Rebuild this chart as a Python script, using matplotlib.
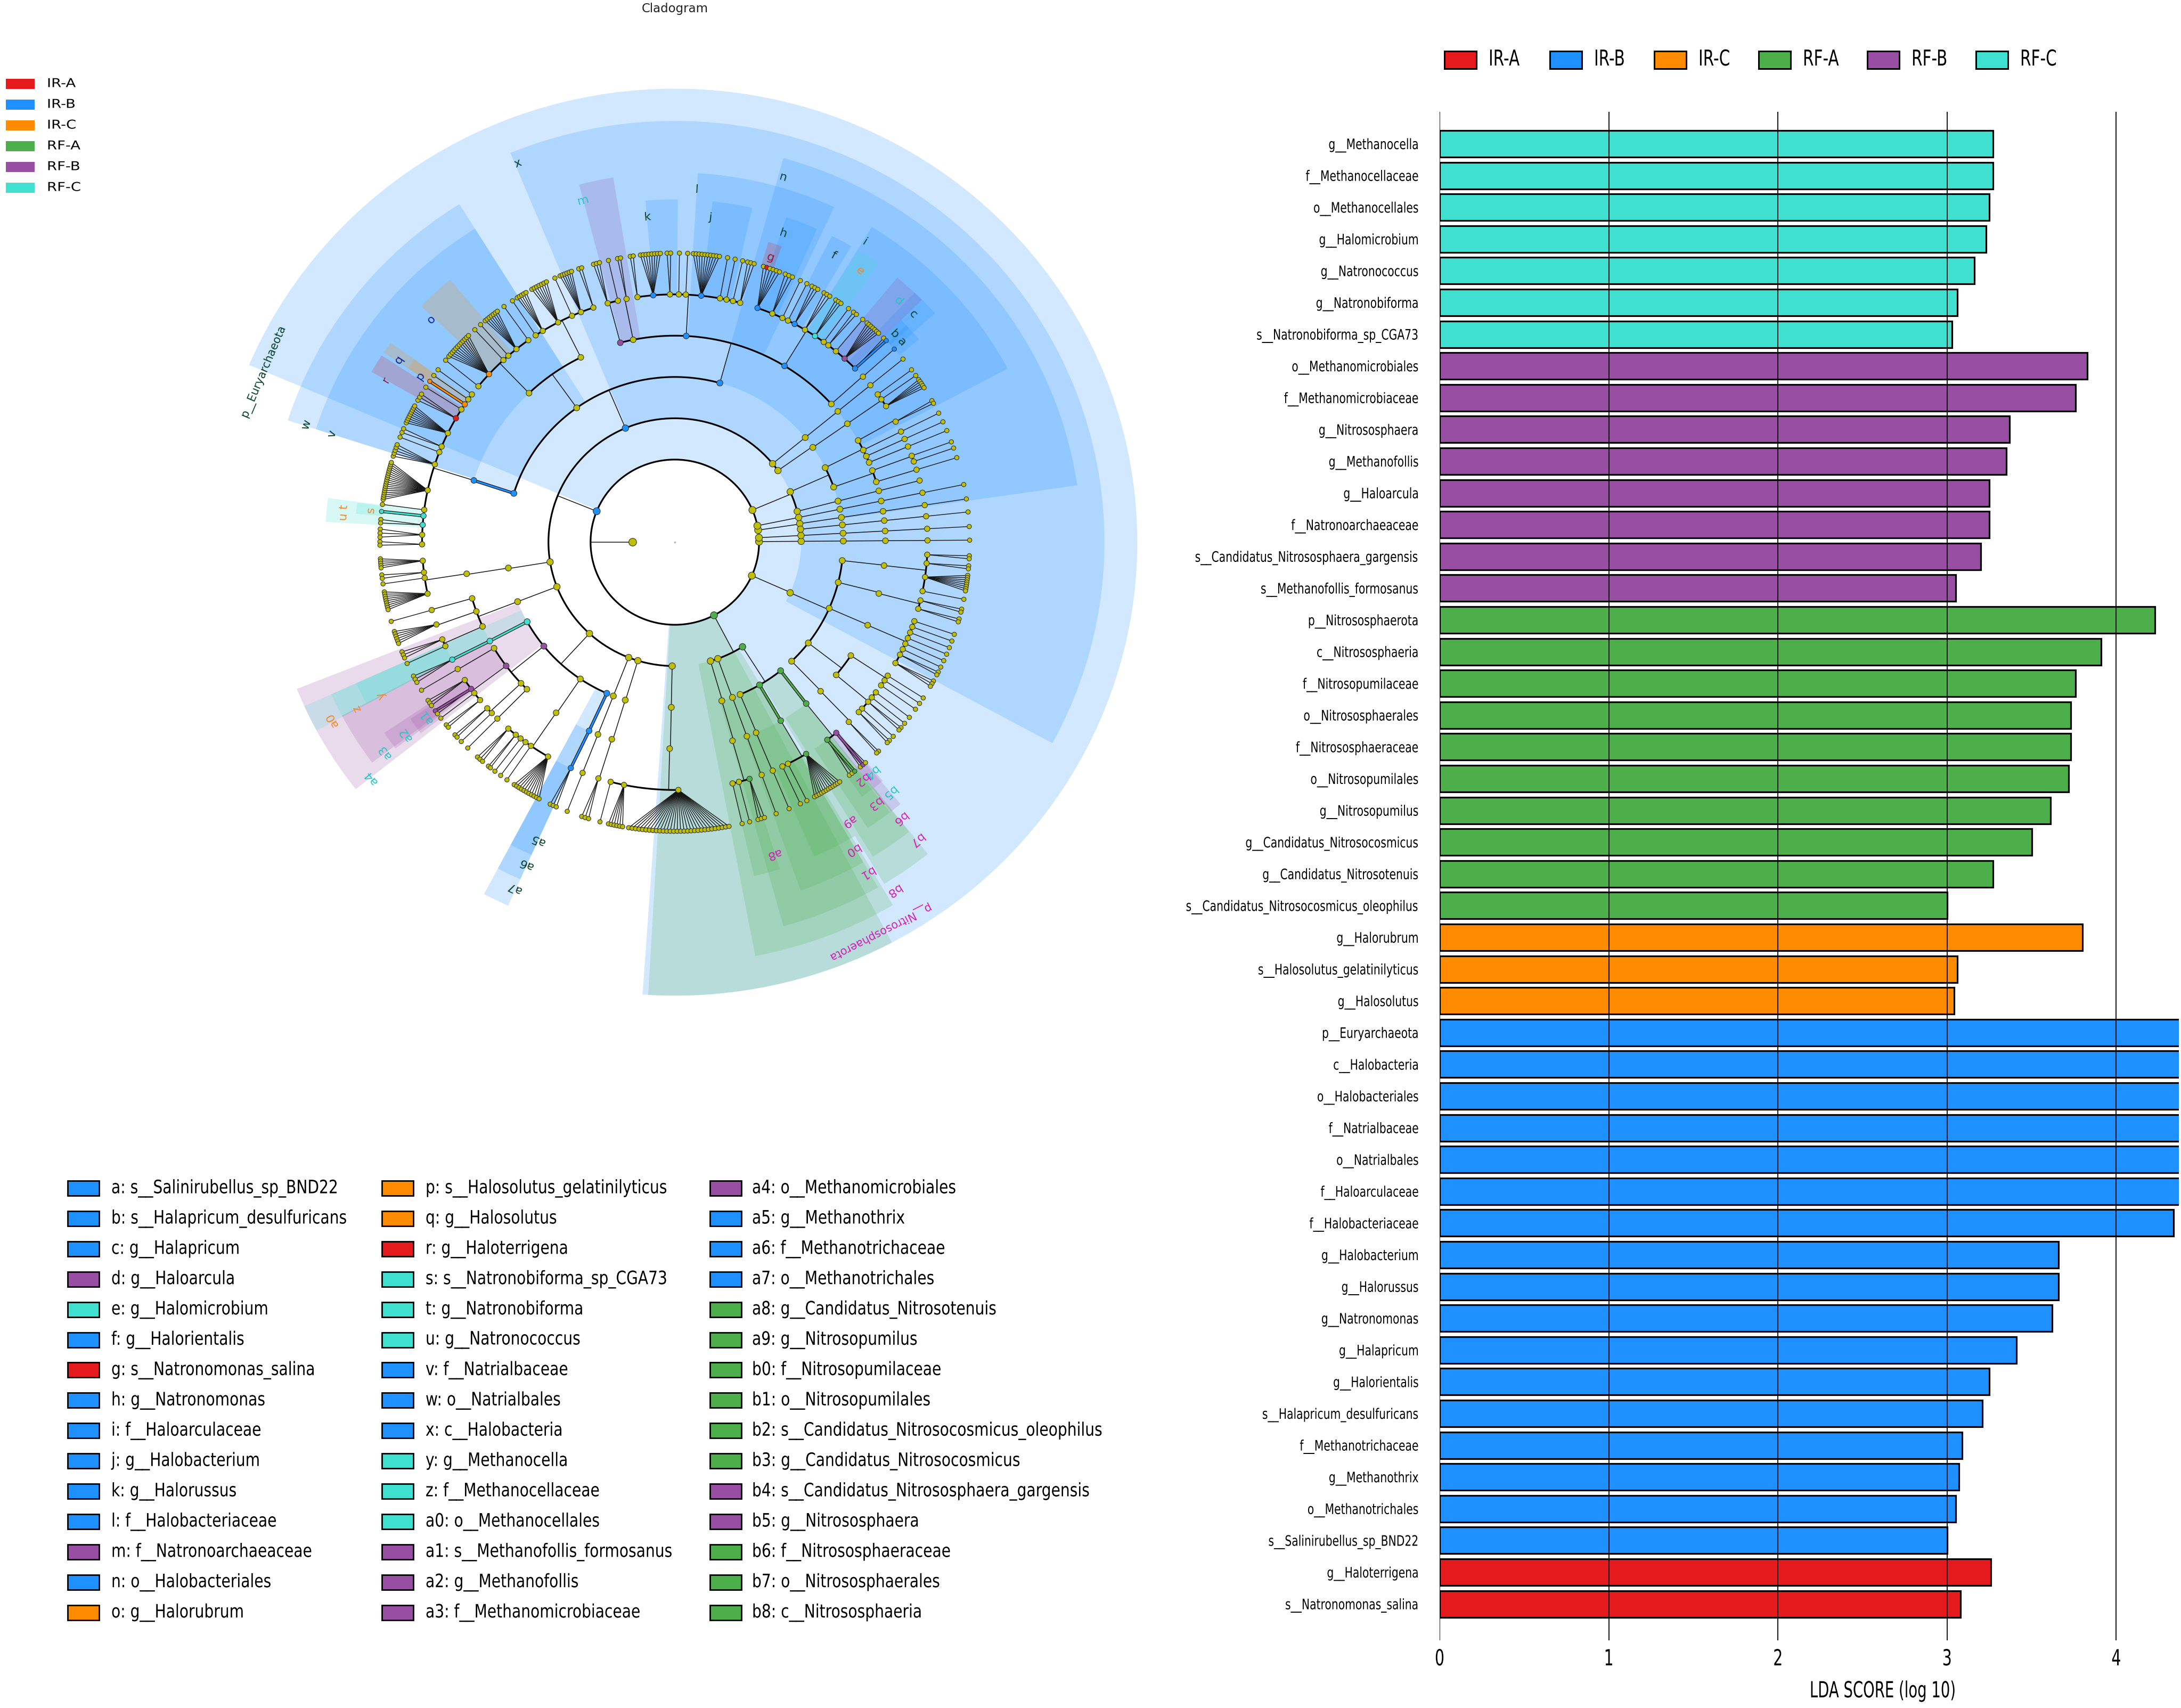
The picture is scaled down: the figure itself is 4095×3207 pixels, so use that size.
import numpy as np
import matplotlib
matplotlib.use('Agg')
import matplotlib.pyplot as plt
from matplotlib.patches import Rectangle
from matplotlib.patheffects import AbstractPathEffect
from matplotlib.transforms import Affine2D

W, H = 4095, 3207
DPI = 100

# groups
groups = ['IR-A', 'IR-B', 'IR-C', 'RF-A', 'RF-B', 'RF-C']
group_colors = ['#e41a1c', '#1e90ff', '#ff8c00', '#4daf4a', '#984ea3', '#40e0d0']
label_colors = ['#8b1a3a', '#06402b', '#10249a', '#d11fb5', '#27c4c4', '#f58a2a']

# LDA bars, top to bottom
bar_names = ['g__Methanocella', 'f__Methanocellaceae', 'o__Methanocellales', 'g__Halomicrobium',
             'g__Natronococcus', 'g__Natronobiforma', 's__Natronobiforma_sp_CGA73',
             'o__Methanomicrobiales', 'f__Methanomicrobiaceae', 'g__Nitrososphaera', 'g__Methanofollis',
             'g__Haloarcula', 'f__Natronoarchaeaceae', 's__Candidatus_Nitrososphaera_gargensis',
             's__Methanofollis_formosanus',
             'p__Nitrososphaerota', 'c__Nitrososphaeria', 'f__Nitrosopumilaceae', 'o__Nitrososphaerales',
             'f__Nitrososphaeraceae', 'o__Nitrosopumilales', 'g__Nitrosopumilus',
             'g__Candidatus_Nitrosocosmicus', 'g__Candidatus_Nitrosotenuis',
             's__Candidatus_Nitrosocosmicus_oleophilus',
             'g__Halorubrum', 's__Halosolutus_gelatinilyticus', 'g__Halosolutus',
             'p__Euryarchaeota', 'c__Halobacteria', 'o__Halobacteriales', 'f__Natrialbaceae', 'o__Natrialbales',
             'f__Haloarculaceae', 'f__Halobacteriaceae', 'g__Halobacterium', 'g__Halorussus', 'g__Natronomonas',
             'g__Halapricum', 'g__Halorientalis', 's__Halapricum_desulfuricans', 'f__Methanotrichaceae',
             'g__Methanothrix', 'o__Methanotrichales', 's__Salinirubellus_sp_BND22',
             'g__Haloterrigena', 's__Natronomonas_salina']
bar_values = [3.27, 3.27, 3.25, 3.23, 3.16, 3.06, 3.03,
              3.83, 3.76, 3.37, 3.35, 3.25, 3.25, 3.20, 3.05,
              4.23, 3.91, 3.76, 3.73, 3.73, 3.72, 3.61, 3.50, 3.27, 3.00,
              3.80, 3.06, 3.04,
              5.00, 4.95, 4.90, 4.80, 4.75, 4.70, 4.34, 3.66, 3.66, 3.62, 3.41, 3.25, 3.21, 3.09, 3.07, 3.05, 3.00,
              3.26, 3.08]
bar_groups = [5] * 7 + [4] * 8 + [3] * 10 + [2] * 3 + [1] * 17 + [0] * 2

# clade legend
legend_col1 = ['a: s__Salinirubellus_sp_BND22', 'b: s__Halapricum_desulfuricans', 'c: g__Halapricum',
               'd: g__Haloarcula', 'e: g__Halomicrobium', 'f: g__Halorientalis', 'g: s__Natronomonas_salina',
               'h: g__Natronomonas', 'i: f__Haloarculaceae', 'j: g__Halobacterium', 'k: g__Halorussus',
               'l: f__Halobacteriaceae', 'm: f__Natronoarchaeaceae', 'n: o__Halobacteriales', 'o: g__Halorubrum']
legend_col2 = ['p: s__Halosolutus_gelatinilyticus', 'q: g__Halosolutus', 'r: g__Haloterrigena',
               's: s__Natronobiforma_sp_CGA73', 't: g__Natronobiforma', 'u: g__Natronococcus', 'v: f__Natrialbaceae',
               'w: o__Natrialbales', 'x: c__Halobacteria', 'y: g__Methanocella', 'z: f__Methanocellaceae',
               'a0: o__Methanocellales', 'a1: s__Methanofollis_formosanus', 'a2: g__Methanofollis',
               'a3: f__Methanomicrobiaceae']
legend_col3 = ['a4: o__Methanomicrobiales', 'a5: g__Methanothrix', 'a6: f__Methanotrichaceae',
               'a7: o__Methanotrichales', 'a8: g__Candidatus_Nitrosotenuis', 'a9: g__Nitrosopumilus',
               'b0: f__Nitrosopumilaceae', 'b1: o__Nitrosopumilales', 'b2: s__Candidatus_Nitrosocosmicus_oleophilus',
               'b3: g__Candidatus_Nitrosocosmicus', 'b4: s__Candidatus_Nitrososphaera_gargensis', 'b5: g__Nitrososphaera',
               'b6: f__Nitrososphaeraceae', 'b7: o__Nitrososphaerales', 'b8: c__Nitrososphaeria']
group_col1 = [1, 1, 1, 4, 5, 1, 0, 1, 1, 1, 1, 1, 4, 1, 2]
group_col2 = [2, 2, 0, 5, 5, 5, 1, 1, 1, 5, 5, 5, 4, 4, 4]
group_col3 = [4, 1, 1, 1, 3, 3, 3, 3, 3, 3, 4, 4, 3, 3, 3]

# clade shading: letter, first and last angle (deg), label angle (deg)
clades = [
    ('p__Euryarchaeota', -94, 157, 157), ('x', -28.5, 112.5, 112.1), ('p__Nitrososphaerota', -93.3, -62, -62.8),
    ('b8', -79.2, -59.5, -58.4), ('n', 8.2, 74.5, 73.8), ('w', 122, 162.2, 162), ('a4', 201.6, 218.3, 218.3),
    ('a0', 204.3, 208.2, 207.9), ('a7', 242, 245.8, 245.5), ('b1', -74.5, -60, -60.4), ('b7', -59, -51.5, -51.5),
    ('i', 28, 58.5, 58.2), ('l', 65, 86.5, 86.5), ('m', 99.4, 104.7, 104.7), ('v', 122, 162.2, 162.2),
    ('z', 204.3, 208.2, 208), ('a3', 208, 216.6, 216.4), ('a6', 242, 245.8, 245.6), ('b0', -70.5, -60, -60.5),
    ('b6', -58.3, -51.6, -51.4),
    ('c', 41.9, 46.7, 44.3), ('d', 45, 50.5, 47.7), ('e', 54.3, 58.3, 56.2), ('f', 59.7, 63.3, 61.5),
    ('h', 66, 71.4, 71), ('j', 77.2, 83.8, 83.9), ('k', 89.5, 94.8, 94.7), ('o', 130, 136.5, 137),
    ('q', 144.4, 146.4, 146), ('r', 147, 150.2, 150.1), ('t', 172.6, 175, 173.8), ('u', 175, 176.6, 175.5),
    ('y', 204.3, 208.2, 208), ('a2', 213.8, 217, 216), ('a5', 242, 245.8, 245.7), ('a8', -76.9, -72.5, -72.8),
    ('a9', -66.5, -59, -58.6), ('b3', -56.5, -52, -53.2), ('b5', -51.8, -49.8, -50),
    ('a', 40.3, 43.7, 42), ('b', 43, 45, 44), ('g', 70.5, 73, 71.8), ('p', 144.4, 146.4, 146.3),
    ('s', 172.8, 174.8, 173.8), ('a1', 214.3, 217.5, 215.6), ('b2', -54.2, -51.8, -52.4), ('b4', -51.5, -49.5, -50.1),
]
phylum_groups = {'p__Euryarchaeota': 1, 'p__Nitrososphaerota': 3}
rank_level = {'p': 2, 'c': 3, 'o': 4, 'f': 5, 'g': 6, 's': 7}
rank_outer = {'p': 10.98, 'c': 10.2, 'o': 9.65, 'f': 8.95, 'g': 8.3, 's': 7.6}
rank_label = {'p': 10.6, 'c': 9.9, 'o': 9.2, 'f': 8.55, 'g': 7.9, 's': 7.25}


# tree helpers: a node is (angle, colour index, children)
def N(a, *kids, c=None):
    return (a, c, kids)


def chain(a, n, *kids, c=None):
    node = N(a, *kids, c=c)
    for i in range(n - 1):
        node = N(a, node, c=c)
    return node


def fan(a0, a1, n, mark=None, c=None):
    return [N(v, c=(c if i == mark else None)) for i, v in enumerate(np.linspace(a0, a1, n))]


def L6(a, a0=None, a1=None, n=1, c=None, mark=None, lc=None):
    if a0 is None:
        return N(a, N(a, c=lc), c=c)
    return N(a, *fan(a0, a1, n, mark, lc), c=c)


B, R, O, G, P, T = 1, 0, 2, 3, 4, 5

natrial = [L6(180.5, 179.9, 180.6, 2), L6(178.3, 177.4, 179, 3), L6(176, 175.5, 176.2, 2, c=T), L6(173.9, c=T, lc=T),
           L6(172.5), L6(167.9, 171.5, 164, 18), L6(161.7, 162.7, 160.3, 5), L6(158.7), L6(157.3, 157.7, 156.9, 2),
           L6(153.9, 155.6, 151.9, 9), L6(150, 150.6, 149.2, 3, c=R), L6(147.6), L6(146.2, c=O, lc=O), L6(144.8), L6(143.4)]
fam_1338 = [L6(141), L6(137.3, 140, 134.4, 12, c=O), L6(132.7), L6(131.2), L6(128.8, 130, 127, 7), L6(125.4)]
fam_1165 = [L6(123.4), L6(121.5, 122.3, 120.3, 5), L6(117.5, 119, 115.8, 7), L6(114), L6(111.8, 112.9, 110.5, 6),
            L6(108.8, 109, 108.4, 2)]
fam_869 = [L6(98.5, 98.7, 98.1, 2), L6(94.9, 96.7, 92.8, 8, c=B), L6(91.1, 91.5, 90.8, 2), L6(89.1), L6(87.5),
           L6(84, 86.4, 81.3, 10, c=B), L6(79.7), L6(78.2), L6(76.7), L6(75, 75.7, 74.4, 3)]
fam_586 = [L6(70.9, 72.5, 69.2, 6, mark=1, lc=R, c=B), L6(67.3, 68, 66.5, 3), L6(64.8), L6(63.4),
           L6(61.7, 62.3, 61, 3, c=B), L6(59, 59.6, 58.3, 3), L6(56.3, 56.9, 55.7, 3, c=T), L6(53.9),
           L6(52.6, 52.7, 52, 2), L6(50.4), L6(47.8, 49.3, 46.3, 7, c=P), L6(44.5, 44.9, 44.2, 2, mark=1, lc=B, c=B)]
halobact = N(113,
             N(162.8, N(162.6, *natrial, c=B), c=B),
             N(125.6, N(133.8, *fam_1338), N(116.5, *fam_1165)),
             N(74.5,
               N(105, L6(105.4, 106, 104.8, 3), L6(103), c=P),
               N(101.4, L6(101, 101.2, 100.6, 2)),
               N(86.9, *fam_869, c=B),
               N(58.6, *fam_586, c=B),
               N(42, L6(41.9, c=None, lc=B)), c=B), c=B)
eury = N(158,
         chain(39.3, 5),
         N(35.3, N(35, N(35, L6(36.6), L6(35.2), L6(33.3, 34.2, 32.3, 5)))),
         halobact,
         N(189.2, N(189, N(188.8, L6(184.3, 183.3, 185.1, 5), L6(187, 186.5, 187.2, 2), L6(188.3),
                           L6(192, 189.9, 193.5, 9)))),
         N(201.1, N(201.1,
                    N(195.8, L6(195.9)),
                    N(199.6, L6(199.4, 198, 200.5, 6)),
                    N(204.1, L6(203.1, 202.3, 203.6, 3), L6(204.8)))),
         N(227.5,
           N(208.8, N(208.6, L6(208.3, 207.6, 209, 3, c=T), c=T), c=T),
           N(219,
             N(210.9, L6(210.8)),
             N(216.8, L6(213.8, 213.2, 214.4, 3), L6(216.3, 215.7, 216.4, 2, mark=0, lc=P, c=P), L6(217.5),
               L6(219.6, 219.2, 219.8, 2), c=P),
             N(223.1, L6(222.1, 221.8, 222.4, 2), L6(223.6)),
             N(225.4, L6(225.4)), c=P),
           N(235.9, N(235.7, L6(228.8, 228, 229.3, 3), L6(231, 230.8, 231.3, 2), L6(232.4), L6(233.8), L6(235.3),
                      L6(239.9, 237, 242.6, 11))),
           N(246.2, N(246, L6(245.7, 245, 246.3, 3, c=B), c=B), c=B)),
         chain(248.6, 5),
         N(253, N(252.9, N(252.6, L6(252.4, 251.6, 253, 3)))),
         N(268.8, N(268.8, N(268.6, L6(255.3), L6(258.4, 257, 259.8, 6), L6(270.8, 261, 280.6, 30)))),
         c=B)
nitroso = N(-62.3,
            N(-73.6, N(-73.8, N(-74.1, L6(-76.8), L6(-75.3), L6(-72.8, -73.6, -72.3, 3, c=G)))),
            N(-70.1, N(-70, N(-70, L6(-69.9)))),
            N(-57.6,
              N(-67.2, N(-67.3, L6(-67.2))),
              N(-59.8, N(-59.8, L6(-64.8), L6(-63.4), L6(-58.7, -61.7, -56, 12, c=G), c=G), c=G),
              N(-51.1, N(-51.4, L6(-52.9, -53.7, -52.4, 3, mark=2, lc=G, c=G),
                         L6(-50.3, -51, -49.7, 3, mark=1, lc=P, c=P), c=G), c=G), c=G),
            c=G)
misc_234 = N(22.9,
             N(24,
               N(26.8,
                 N(29.5, L6(29.1, 29.3, 28.7, 2)), N(26.5, L6(26.5)), N(24.6, L6(24.6)), N(22.7, L6(22.7))),
               N(19.5, N(20.3, N(20.4, N(20.3)), N(19, N(19))), N(17, L6(17)))),
             chain(14.4, 4))
misc_m24 = N(-23.9, N(-24.1,
                      N(-6.4, N(-6.5, L6(-2.9, -2.7, -3.3, 2), L6(-4.9, -4.7, -5.3, 2), L6(-8.1, -6.6, -9.7, 8),
                                L6(-11.4))),
                      N(-14.1, N(-14.4, L6(-13.6, -13.4, -14, 2), L6(-15.6, -15.4, -16, 2))),
                      N(-23.6, N(-23.7, L6(-18.6), L6(-20), L6(-21.4), L6(-22.8), L6(-24.2), L6(-25.6),
                                 L6(-27, -26.7, -27.3, 2), L6(-29.2, -28.7, -29.9, 3))),
                      N(-37.6,
                        N(-33.3, L6(-32.6), L6(-33.9), L6(-35.3)),
                        N(-40, L6(-37.3), L6(-38.8), L6(-40.1, -39.9, -40.5, 2), L6(-42.2), L6(-43.3, -43.3, -43.9, 2))),
                      N(-46.1, N(-46.2, L6(-46.5, -46.3, -46.8, 2)))))
root = N(180, chain(0.4, 6), chain(3.1, 6), N(8.4, chain(8.6, 5), chain(6, 5)), chain(11.5, 6), misc_234, misc_m24,
         eury, nitroso)

level_size = {1: 10.5, 2: 9.6, 3: 8.8, 4: 8.2, 5: 7.8, 6: 7.4, 7: 6.0}
LEAF_LEVEL = 7

fig = plt.figure(figsize=(W / DPI, H / DPI), dpi=DPI, facecolor='white')


class Squeeze(AbstractPathEffect):
    # the chart was squashed sideways after drawing, so the glyphs are narrower than the font
    def __init__(self, x0, sx):
        super().__init__()
        self.x0, self.sx = x0, sx

    def draw_path(self, renderer, gc, tpath, affine, rgbFace=None):
        squash = Affine2D().translate(-self.x0, 0).scale(self.sx, 1).translate(self.x0, 0)
        renderer.draw_path(gc, tpath, affine + squash, rgbFace)


def px_axes(x0, y0, x1, y1, **kw):
    return fig.add_axes([x0 / W, 1 - y1 / H, (x1 - x0) / W, (y1 - y0) / H], **kw)


# --- overlay for the legends
lay = fig.add_axes([0, 0, 1, 1])
lay.set_xlim(0, W)
lay.set_ylim(H, 0)
lay.axis('off')
lay.text(1267, 16, 'Cladogram', ha='center', va='center', fontsize=16.5, color='#222222')
for i, g in enumerate(groups):
    y = 157 + i * 39
    lay.add_patch(Rectangle((11, y - 9.5), 54, 19, fc=group_colors[i], ec='none'))
    t = lay.text(88, y, g, va='center', fontsize=16.5)
    t.set_path_effects([Squeeze(88, 1.2)])

leg_x = [2712, 2910, 3106, 3302, 3506, 3710]
for i, g in enumerate(groups):
    lay.add_patch(Rectangle((leg_x[i], 96), 60, 33, fc=group_colors[i], ec='black', lw=2.2))
    t = lay.text(leg_x[i] + 83, 112, g, va='center', fontsize=29.5)
    t.set_path_effects([Squeeze(leg_x[i] + 83, 0.72)])

cols = [(legend_col1, group_col1, 127, 209), (legend_col2, group_col2, 717, 799), (legend_col3, group_col3, 1333, 1412)]
for names, grp, xr, xt in cols:
    for i, s in enumerate(names):
        y = 2231 + i * 56.9
        lay.add_patch(Rectangle((xr, y - 14), 59, 28, fc=group_colors[grp[i]], ec='black', lw=2.0))
        t = lay.text(xt, y, s, va='center', fontsize=25)
        t.set_path_effects([Squeeze(xt, 0.81)])

# --- LDA bars
STEP = 59.6
ax = px_axes(2703, 210, 4091, 3080)
ypos = np.arange(len(bar_names))
ax.barh(ypos, bar_values, height=0.84, color=[group_colors[g] for g in bar_groups], edgecolor='black', linewidth=2.3,
        zorder=2)
ax.set_xlim(0, (4091 - 2703) / 317.6)
ax.set_ylim((3080 - 270) / STEP, -60 / STEP)
ax.set_xticks([0, 1, 2, 3, 4])
ax.set_yticks(ypos)
ax.set_yticklabels(bar_names, fontsize=19.5)
ax.tick_params(axis='y', length=0, pad=28)
ax.tick_params(axis='x', length=0, pad=10)
for t in ax.get_yticklabels():
    t.set_path_effects([Squeeze(2664, 0.75)])
for i, t in enumerate(ax.get_xticklabels()):
    t.set_fontsize(30)
    t.set_path_effects([Squeeze(2703 + 317.6 * i, 0.68)])
ax.xaxis.grid(True, color='black', lw=1.3, zorder=5)
ax.set_axisbelow(False)
for s in ax.spines.values():
    s.set_visible(False)
ax.patch.set_alpha(0)
t = lay.text(3535, 3175, 'LDA SCORE (log 10)', ha='center', va='center', fontsize=30)
t.set_path_effects([Squeeze(3535, 0.66)])

# --- cladogram
pol = px_axes(1267 - 870, 1018 - 853, 1267 + 870, 1018 + 853, projection='polar')
pol.set_aspect('auto')
pol.set_ylim(0, 11)
pol.set_axis_off()

letter_group = {}
for names, grp, _, _ in cols:
    for s, g in zip(names, grp):
        letter_group[s.split(':')[0]] = (g, s.split(': ')[1][0])
letter_group.update({k: (v, 'p') for k, v in phylum_groups.items()})

for name, a0, a1, lab in clades:
    g, rank = letter_group[name]
    r0, r1 = rank_level[rank], rank_outer[rank]
    pol.bar(np.radians((a0 + a1) / 2), r1 - r0, width=np.radians(a1 - a0), bottom=r0, color=group_colors[g],
            alpha=0.2, linewidth=0, zorder=1)
    pol.text(np.radians(lab), rank_label[rank], name, rotation=lab - 90, rotation_mode='anchor', ha='center',
             va='center', fontsize=15 if len(name) > 2 else 16, color=label_colors[g], zorder=6)

node_t, node_r, node_s, node_c = [], [], [], []


def draw(node, level):
    a, c, kids = node
    node_t.append(np.radians(a))
    node_r.append(level)
    node_s.append(level_size[level] ** 2)
    node_c.append(group_colors[c] if c is not None else 'y')
    if not kids:
        return
    child = level + 1
    if child == LEAF_LEVEL:
        for k in kids:
            same = c is not None and k[1] == c
            th = np.radians([a, k[0]])
            if same:
                pol.plot(th, [level, child], color='black', lw=4, zorder=3, solid_capstyle='butt')
                pol.plot(th, [level, child], color=group_colors[c], lw=2.4, zorder=3.1, solid_capstyle='butt')
            else:
                pol.plot(th, [level, child], color='#161616', lw=1.0, zorder=3)
    else:
        angles = [k[0] for k in kids]
        lo, hi = min(angles), max(angles)
        if child == 2:
            lo, hi = 0, 360
        if hi > lo:
            pol.plot(np.radians(np.linspace(lo, hi, 200)), np.full(200, child), color='black', lw=2.3, zorder=3,
                     solid_capstyle='round')
        same = len(kids) == 1 and c is not None and kids[0][1] == c
        if same:
            th = np.radians([a, kids[0][0]])
            pol.plot(th, [level, child], color='black', lw=4, zorder=3, solid_capstyle='butt')
            pol.plot(th, [level, child], color=group_colors[c], lw=2.4, zorder=3.1, solid_capstyle='butt')
        else:
            pol.plot(np.radians([a, a]), [level, child], color='#161616', lw=1.1, zorder=3)
    for k in kids:
        draw(k, child)


draw(root, 1)
pol.scatter(node_t, node_r, s=node_s, c=node_c, edgecolors='#303030', linewidths=0.8, zorder=4)
pol.scatter([0], [0], s=3, c='#bbbbbb', zorder=4)
pol.set_xlim(0, 2 * np.pi)
pol.set_ylim(0, 11)

fig.savefig('out.png', dpi=DPI)
